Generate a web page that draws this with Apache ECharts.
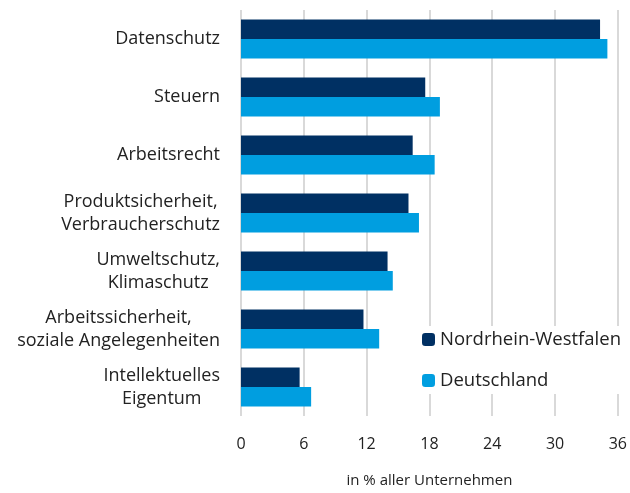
<!DOCTYPE html>
<html>
<head>
<meta charset="utf-8">
<script src="https://cdn.jsdelivr.net/npm/echarts@6/dist/echarts.min.js"></script>
<style>
  html, body { margin: 0; padding: 0; background: #fff; }
  #chart { width: 630px; height: 493px; }
</style>
</head>
<body>
<div id="chart"></div>
<script>
// Themen (von unten nach oben, weil die y-Achse unten beginnt)
var categories = [
    'Intellektuelles\nEigentum',
    'Arbeitssicherheit,\nsoziale Angelegenheiten',
    'Umweltschutz,\nKlimaschutz',
    'Produktsicherheit,\nVerbraucherschutz',
    'Arbeitsrecht',
    'Steuern',
    'Datenschutz'
];
var nrw = [5.6, 11.7, 14.0, 16.0, 16.4, 17.6, 34.3];
var deutschland = [6.7, 13.2, 14.5, 17.0, 18.5, 19.0, 35.0];
var xTicks = [0, 6, 12, 18, 24, 30, 36];

var myChart = echarts.init(document.getElementById('chart'));

var font = 'Open Sans';

var option = {
    animation: false,
    textStyle: { fontFamily: font },
    grid: {
        left: 241,
        right: 9,
        top: 10,
        bottom: 75
    },
    legend: {
        orient: 'vertical',
        left: 418,
        top: 326,
        itemWidth: 13,
        itemHeight: 13,
        itemGap: 22,
        padding: [4, 4, 4, 4],
        backgroundColor: '#fff',
        textStyle: { fontSize: 18.5, color: '#222', fontFamily: font },
        data: ['Nordrhein-Westfalen', 'Deutschland']
    },
    xAxis: {
        type: 'value',
        min: xTicks[0],
        max: xTicks[xTicks.length - 1],
        interval: 6,
        name: 'in % aller Unternehmen',
        nameLocation: 'middle',
        nameGap: 57,
        nameTextStyle: { fontSize: 15, color: '#222', fontFamily: font },
        axisLine: { show: false },
        axisTick: { show: false },
        axisLabel: { fontSize: 16, color: '#222', margin: 20, fontFamily: font },
        splitLine: { lineStyle: { color: '#d9d9d9', width: 2 } }
    },
    yAxis: {
        type: 'category',
        data: categories,
        axisLine: { show: false },
        axisTick: { show: false },
        axisLabel: {
            margin: 21,
            align: 'right',
            color: '#222',
            fontSize: 18,
            lineHeight: 23,
            fontFamily: font,
            formatter: function (v) {
                return v.split('\n').map(function (s) { return '{c|' + s + '}'; }).join('\n');
            },
            rich: {
                c: { align: 'center', fontSize: 18, lineHeight: 23, color: '#222', fontFamily: font }
            }
        }
    },
    series: [
        {
            name: 'Nordrhein-Westfalen',
            type: 'bar',
            data: nrw,
            barGap: '0%',
            barCategoryGap: '33%',
            itemStyle: { color: '#003063' }
        },
        {
            name: 'Deutschland',
            type: 'bar',
            data: deutschland,
            itemStyle: { color: '#009EE0' }
        }
    ]
};

myChart.setOption(option);
</script>
</body>
</html>
